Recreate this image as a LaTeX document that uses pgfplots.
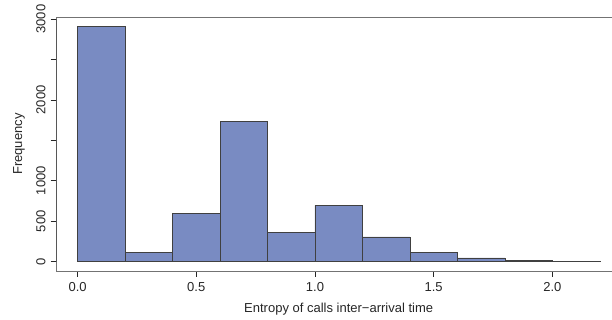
\documentclass[border=0pt]{standalone}
\usepackage{pgfplots}
\pgfplotsset{compat=1.18}
\usepackage{fontspec}
\setmainfont{Liberation Sans}
\definecolor{barfill}{RGB}{121,139,194}
\begin{document}
\begin{tikzpicture}
\begin{axis}[
  at={(0,0)}, anchor=south west,
  scale only axis, width=564pt, height=253.7pt,
  xmin=-0.088, xmax=2.288, ymin=-116.2, ymax=3021.2,
  axis line style={black!55, line width=0.7pt},
  tick style={black!85, line width=0.7pt},
  tick align=outside, major tick length=6pt,
  xtick pos=bottom, ytick pos=left,
  xtick={0,0.5,1,1.5,2}, xticklabels={0.0,0.5,1.0,1.5,2.0},
  ytick={0,500,1000,1500,2000,2500,3000}, yticklabels={0,500,1000,,2000,,3000},
  yticklabel style={rotate=90, anchor=south, inner sep=0pt, yshift=5pt},
  xticklabel style={anchor=north, inner sep=0pt, yshift=-5pt},
  tick label style={font=\fontsize{13}{15}\selectfont, text=black!85},
  label style={font=\fontsize{13}{15}\selectfont, text=black!85},
  xlabel={Entropy of calls inter−arrival time},
  ylabel={Frequency},
  xlabel style={at={(axis description cs:0.5,0)}, anchor=center, yshift=-38pt, inner sep=0pt},
  ylabel style={at={(axis description cs:0,0.5)}, anchor=center, yshift=37.7pt, inner sep=0pt},
  /pgf/number format/assume math mode=true,
]
\addplot[ybar interval, fill=barfill, draw=black!75, line width=0.6pt] coordinates {
(0,2913) (0.2,115) (0.4,597) (0.6,1735) (0.8,362) (1.0,696) (1.2,305) (1.4,115) (1.6,45) (1.8,12) (2.0,3) (2.2,0)};
\draw[black!85, line width=0.7pt] (axis cs:0,-116.2) -- (axis cs:2,-116.2);
\draw[black!85, line width=0.7pt] (axis cs:-0.088,0) -- (axis cs:-0.088,3000);
\end{axis}
\pgfresetboundingbox
\path[use as bounding box] (-56.7pt,-49pt) rectangle (555.3pt,271pt);
\end{tikzpicture}
\end{document}
